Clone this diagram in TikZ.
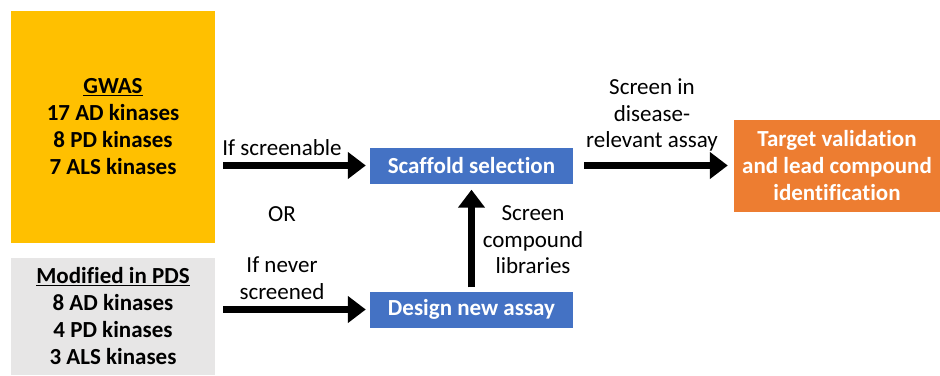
\documentclass[tikz,border=0pt]{standalone}
\usepackage{fontspec}
\setmainfont[Ligatures=NoCommon]{Carlito}
\usepackage{tikz}
\usetikzlibrary{arrows.meta}
\definecolor{gwasyellow}{HTML}{FFC000}
\definecolor{pdsgray}{HTML}{E7E6E6}
\definecolor{stepblue}{HTML}{4472C4}
\definecolor{goalorange}{HTML}{ED7D31}

\begin{document}
\begin{tikzpicture}[x=1pt,y=-1pt,
  boxfont/.style={font=\fontsize{23}{27}\selectfont\bfseries,align=center,inner sep=0pt},
  lblfont/.style={font=\fontsize{23}{26.5}\selectfont,align=center,inner sep=0pt},
  bigarrow/.style={line width=6.5pt,-{Triangle[width=26pt,length=18pt]}}]
  \useasboundingbox (0,0) rectangle (940,375);
  % source lists
  \node[boxfont,fill=gwasyellow,minimum width=204pt,minimum height=232pt] (gwas) at (113,127)
    {\underline{GWAS}\\17 AD kinases\\8 PD kinases\\7 ALS kinases};
  \node[boxfont,fill=pdsgray,minimum width=204pt,minimum height=117pt] (pds) at (113,316.5)
    {\underline{Modified in PDS}\\8 AD kinases\\4 PD kinases\\3 ALS kinases};
  % steps
  \node[boxfont,text=white,fill=stepblue,minimum width=203pt,minimum height=36pt] (scaf) at (471.5,165.5)
    {Scaffold selection};
  \node[boxfont,text=white,fill=stepblue,minimum width=203pt,minimum height=36pt] (design) at (471.5,309.5)
    {Design new assay};
  \node[boxfont,text=white,fill=goalorange,minimum width=206pt,minimum height=92pt] (goal) at (837,166)
    {Target validation\\and lead compound\\identification};
  % connectors
  \draw[bigarrow] ([xshift=8pt]gwas.east |- scaf.west) -- ([xshift=-4pt]scaf.west);
  \draw[bigarrow] ([xshift=8pt]pds.east |- design.west) -- ([xshift=-4pt]design.west);
  \draw[bigarrow] ([yshift=4pt]design.north) -- ([yshift=-6pt]scaf.south);
  \draw[bigarrow] ([xshift=11pt]scaf.east) -- ([xshift=-6pt]goal.west |- scaf.east);
  % labels
  \node[lblfont] (lscr) at (282,148) {If screenable};
  \node[lblfont] (lor) at (282,214) {OR};
  \node[lblfont] (lnev) at (282,278) {If never\\screened};
  \node[lblfont] (llib) at (533,240) {Screen\\compound\\libraries};
  \node[lblfont] (ldis) at (652,115) {Screen in\\disease-\\relevant assay};
\end{tikzpicture}
\end{document}
